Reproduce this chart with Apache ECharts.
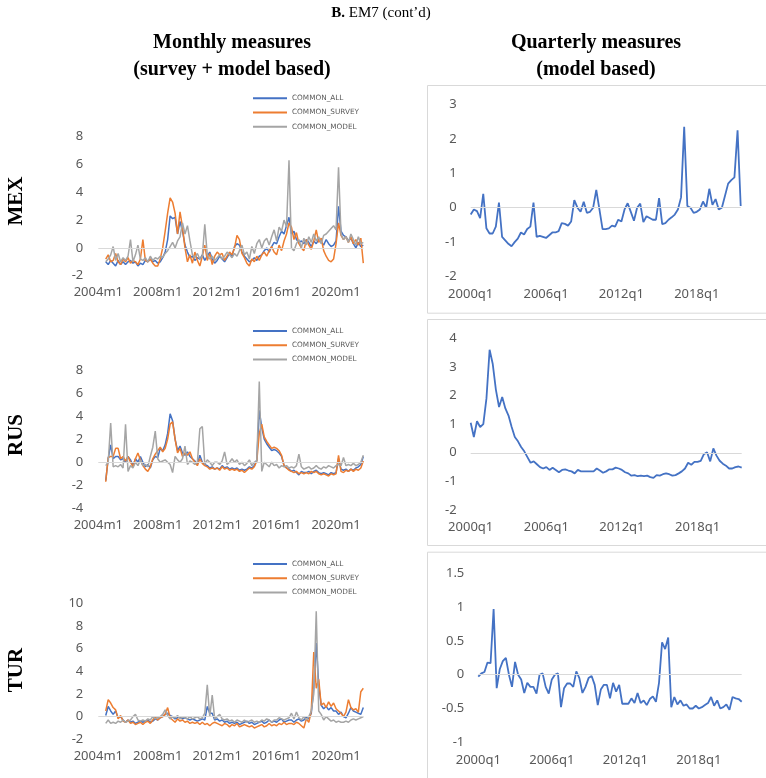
<!DOCTYPE html>
<html>
<head>
<meta charset="utf-8">
<script src="https://cdn.jsdelivr.net/npm/echarts@6/dist/echarts.min.js"></script>
<style>
  html, body { margin: 0; padding: 0; background: #fff; }
  #chart { width: 766px; height: 778px; }
</style>
</head>
<body>
<div id="chart"></div>
<script>
// month labels, every second month, 2004m1 .. 2021m11
const months = []
for (let y = 2004; y <= 2021; y++) {
  for (const m of [1, 3, 5, 7, 9, 11]) months.push(y + 'm' + m)
}
// quarter labels 2000q1 .. 2021q3
const quarters = []
for (let y = 2000; y <= 2021; y++) {
  for (let q = 1; q <= 4; q++) quarters.push(y + 'q' + q)
}
quarters.length = 87

const seriesNames = ['COMMON_ALL', 'COMMON_SURVEY', 'COMMON_MODEL']

// MEX monthly
const mexAll = [
  null, null, null, -1.0, -1.2, -0.9,
  -1.1, -1.3, -0.9, -1.2, -1.0, -1.2,
  -1.0, -0.9, -1.1, -1.0, -1.3, -1.1,
  -1.2, -0.9, -1.0, -0.8, -1.0, -0.9,
  -1.1, -1.0, -0.7, -0.3, 0.6, 2.3,
  2.1, 2.2, 1.0, 1.9, 1.2, 0.2,
  -0.3, -0.7, -0.6, -0.9, -0.7, -0.8,
  -0.5, -0.9, -0.6, -0.3, -0.8, -1.1,
  -0.9, -0.6, -0.8, -1.0, -0.7, -0.4,
  -0.6, 0.1, 0.3, 0.2, -0.3, -0.6,
  -0.8, -1.0, -0.9, -0.7, -0.9, -0.6,
  -0.5, -0.2, 0.0, -0.3, 0.1, 0.4,
  0.3, 0.8, 1.2, 1.0, 1.6, 2.2,
  1.0, 1.2, 0.6, 0.4, 0.5, 0.3,
  0.6, 0.4, 0.1, 0.5, 0.3, 0.6,
  0.4, 0.2, 0.6, 0.3, 0.1, 0.2,
  0.5, 3.0, 1.2, 0.9, 0.8, 0.5,
  0.7, 0.3, 0.0, 0.4, 0.1, 0.2
]
const mexSurvey = [
  null, null, null, -0.8, -0.5, -1.0,
  -0.9, -0.4, -1.0, -1.2, -0.8, -1.0,
  -0.7, -1.1, -0.9, -1.0, -1.2, -0.8,
  0.6, -0.9, -1.0, -0.8, -1.1, -1.3,
  -1.3, -0.8, 0.0, 1.2, 2.5, 3.6,
  3.3, 2.5, 1.0, 2.6, 1.5, 0.0,
  -1.0, -0.5, -1.1, -0.3, -0.9, -1.3,
  -0.6, 0.2, -0.9, -0.4, -1.2, -0.6,
  -0.3, -0.5, -0.4, -0.9, -0.6, -0.3,
  -0.5, 0.0, 0.9, 0.6, -0.4, -0.7,
  -1.1, -1.3, -0.8, -1.0, -0.6, -0.9,
  -0.5, -0.3, -0.6, -0.2, 0.1, -0.3,
  -0.5, 0.2, -0.2, 0.5, 1.0, 1.8,
  1.5, 0.6, 1.1, 0.3, 0.0, -0.2,
  0.6, 0.2, -0.1, 0.5, 1.3, 0.4,
  0.7, -0.2, -0.6, -0.9, -1.0, -0.8,
  0.3, 1.8, 0.9, 0.6, 0.8, 0.4,
  0.8, 0.3, 0.6, 0.2, 0.7, -1.1
]
const mexModel = [
  null, null, null, -1.0, -0.8, -0.5,
  0.1, -0.9, -0.4, -1.0, -0.7, -0.9,
  -0.6, 0.6, -1.0, -0.5, 0.2, -0.8,
  -0.9, -0.7, -1.0, -0.6, -0.9, -0.7,
  -0.8, -0.6, -0.7, -0.4, -0.2, 0.1,
  0.4, 0.0, 0.5, 0.8, 1.8, 1.0,
  1.6, 0.5, -0.5, -0.7, -0.4, -0.8,
  -0.6, 1.7, -0.5, -0.8, -0.6, -0.9,
  -0.7, -0.5, -0.8, -0.6, -0.3, -0.5,
  -0.7, -0.4, -0.6, -0.2, 0.2, -0.5,
  -0.3, -0.8, 0.1, -0.4, 0.3, 0.6,
  0.0, 0.5, 0.7, 0.2, 0.8, 1.3,
  0.5, 1.5, 1.2, 2.0, 1.5, 6.3,
  0.0, -0.2, 0.3, 0.6, 0.0, 0.7,
  0.2, 0.8, 0.4, 1.0, 0.5, 0.8,
  0.3, 0.9, 1.0, 1.2, 1.4, 1.6,
  1.3, 5.8, 1.0, 0.6, 0.8, 0.4,
  1.0, 0.6, 0.2, 0.8, 0.3, 0.4
]

// RUS monthly
const rusAll = [
  null, null, null, -1.6, 0.3, 1.5,
  0.3, 0.5, 0.5, 0.2, 0.3, 0.0,
  0.5, 0.2, -0.3, 0.3, 0.0, 0.5,
  0.0, -0.4, -0.2, -0.5, 0.2, 0.5,
  0.4, 1.2, 1.0, 1.5, 2.5, 4.2,
  3.6, 2.0, 1.0, 1.4, 0.8, 0.6,
  0.9, 0.5, 0.3, 0.1, -0.2, 0.6,
  0.0, -0.2, -0.3, -0.5, -0.4, -0.6,
  -0.5, -0.6, -0.3, -0.5, -0.4, -0.6,
  -0.5, -0.6, -0.5, -0.7, -0.6, -0.7,
  -0.6, -0.4, -0.5, -0.3, 0.2, 4.5,
  3.0, 2.0, 1.6, 1.3, 1.0, 1.1,
  1.0, 0.8, 0.5, -0.3, -0.5, -0.6,
  -0.8, -0.7, -0.9, -1.1, -0.8, -0.9,
  -0.9, -0.8, -1.0, -0.8, -0.7, -0.9,
  -1.0, -0.9, -1.0, -1.1, -0.9, -1.0,
  -0.9, 0.3, -0.6, -0.7, -0.6, -0.8,
  -0.6, -0.7, -0.5, -0.4, -0.2, 0.5
]
const rusSurvey = [
  null, null, null, -1.7, 0.4, 0.5,
  0.5, 1.2, 1.2, 0.3, 0.5, 0.1,
  0.5, 0.0, -0.4, 0.3, 0.8, 0.2,
  -0.3, -0.6, -0.8, -0.4, 0.3, 0.7,
  1.0, 1.3, 0.9, 1.2, 2.0, 3.3,
  3.5, 2.0, 0.8, 1.2, 0.5, 0.8,
  0.6, 0.9, 0.3, 0.0, -0.3, 0.3,
  -0.1, -0.3, -0.4, -0.6, -0.5, -0.6,
  -0.5, -0.7, -0.4, -0.6, -0.5, -0.7,
  -0.6, -0.7, -0.6, -0.8, -0.7, -0.9,
  -0.7, -0.5, -0.6, -0.4, 0.1, 2.5,
  3.3, 2.2, 1.8, 1.5, 1.2, 1.3,
  1.2, 1.0, 0.6, -0.3, -0.5, -0.7,
  -0.8, -0.9, -0.8, -1.0, -0.9, -1.0,
  -0.9, -1.0, -0.8, -0.9, -0.8, -1.0,
  -1.1, -1.0, -1.1, -1.2, -1.0, -1.1,
  -1.0, 0.6, -0.8, -0.9, -0.7, -0.8,
  -0.6, -0.8, -0.6, -0.7, -0.5, 0.1
]
const rusModel = [
  null, null, null, -0.3, 0.0, 3.4,
  -0.4, -0.3, -0.4, -0.2, -0.5, 3.3,
  -0.8, -0.3, -0.5, 0.0, -0.3, 0.2,
  -0.3, -0.2, -0.4, 0.5, 1.3, 2.7,
  0.3, 0.0, 0.1, 0.2, 0.0, -0.2,
  -0.9, 0.5, 0.2, 0.0, 0.3, 1.4,
  -0.2, 0.1, 0.0, -0.2, 0.0, 2.9,
  3.1, -0.2, 0.2, 0.0, -0.3, 0.0,
  0.0, -0.2, 0.1, 0.9, -0.2, 0.0,
  0.3, 0.0, 0.2, -0.2, 0.0, -0.3,
  -0.1, 0.2, -0.3, 0.0, 0.1, 7.0,
  -0.8, 0.0, -0.2, -0.4, 0.0, -0.3,
  -0.2, -0.5, -0.3, -0.4, -0.3, -0.5,
  -0.4, -0.5, -0.3, 0.7, -0.4, -0.6,
  -0.5, -0.4, -0.6, -0.5, -0.3, -0.5,
  -0.6, -0.4, -0.5, -0.3, -0.4, -0.5,
  -0.3, -0.2, -0.3, 0.4, -0.3, -0.2,
  -0.3, -0.1, -0.3, -0.2, 0.0, 0.6
]

// TUR monthly
const turAll = [
  null, null, null, 0.1, 0.9, 0.5,
  0.2, 0.5, -0.1, 0.0, -0.3, -0.5,
  -0.3, -0.5, -0.4, -0.6, -0.5, -0.4,
  -0.5, -0.4, -0.3, -0.5, -0.4, -0.2,
  -0.3, -0.1, 0.0, 0.2, 0.3, 0.1,
  0.0, -0.2, -0.1, 0.0, -0.2, -0.1,
  -0.2, -0.3, -0.2, -0.3, -0.4, -0.3,
  -0.2, -0.3, 0.9, 0.3, 0.3, -0.3,
  -0.2, -0.4, -0.3, -0.5, -0.4, -0.6,
  -0.5, -0.6, -0.5, -0.7, -0.6, -0.5,
  -0.4, -0.6, -0.5, -0.7, -0.6, -0.5,
  -0.4, -0.6, -0.5, -0.3, -0.5, -0.4,
  -0.5, -0.3, -0.2, -0.5, -0.4, -0.3,
  -0.3, -0.5, -0.3, -0.2, -0.4, -0.3,
  0.0, -0.2, 0.3, 2.5, 6.5, 2.8,
  1.0, 0.7, 0.9, 0.6, 0.8, 0.5,
  0.5, 0.2, 0.4, 0.0, -0.1, 0.3,
  0.8, 0.5, 0.4, 0.3, 0.2, 0.8
]
const turSurvey = [
  null, null, null, 0.5, 1.5, 1.2,
  0.8, 0.6, -0.2, 0.1, -0.4, -0.5,
  -0.3, -0.6, -0.5, -0.7, -0.6, -0.5,
  -0.7, -0.5, -0.4, -0.6, -0.3, 0.0,
  -0.3, -0.1, 0.0, 0.2, 0.8, -0.1,
  -0.3, -0.5, -0.2, -0.4, -0.3, -0.5,
  -0.4, -0.6, -0.5, -0.6, -0.5, -0.7,
  -0.5, -0.7, -0.6, -0.8, -0.6, -0.5,
  -0.6, -0.7, -0.8, -0.6, -0.7, -0.9,
  -0.7, -0.8, -0.6, -0.9, -0.8, -0.7,
  -0.8, -0.9, -0.8, -1.0, -0.9, -0.8,
  -0.7, -0.9, -0.8, -0.6, -0.8, -0.7,
  -0.8, -0.6, -0.7, -0.5, -0.7, -0.6,
  -0.6, -0.7, -0.5, -0.6, -0.8, -1.0,
  -0.2, -0.5, 0.5, 5.7, 2.5, 3.3,
  1.0, 1.2, 0.8, 1.3, 0.9, 1.2,
  0.7, 0.5, 0.3, 0.0, 0.4, 1.5,
  0.8, 0.6, 0.7, 0.4, 2.2, 2.5
]
const turModel = [
  null, null, null, -0.6, -0.3, -0.6,
  -0.5, -0.6, -0.4, -0.5, -0.3, -0.5,
  -0.4, -0.3, 0.0, 0.2, -0.3, -0.4,
  -0.3, -0.4, -0.2, -0.3, 0.0, -0.2,
  -0.1, 0.0, 0.2, 0.6, 0.1, -0.2,
  0.0, -0.1, 0.1, -0.2, 0.0, -0.1,
  -0.2, 0.0, -0.2, -0.1, 0.0, -0.2,
  -0.1, 0.3, 2.8, 0.0, 1.9, -0.2,
  0.0, 0.2, -0.2, -0.3, -0.2, -0.4,
  -0.3, -0.5, -0.3, -0.4, -0.5, -0.3,
  -0.5, -0.4, -0.3, -0.5, -0.4, -0.5,
  -0.3, -0.4, -0.2, -0.3, -0.5, -0.3,
  -0.3, -0.1, -0.2, -0.3, -0.2, -0.1,
  0.3, -0.2, 0.4, -0.1, -0.3, 0.0,
  -0.3, 0.0, 0.5, 2.0, 9.3, 0.5,
  0.2, -0.3, 0.0, -0.2, -0.4, -0.3,
  -0.5, -0.4, -0.5, -0.5, -0.4, -0.5,
  -0.3, -0.2, -0.3, -0.2, -0.1, 0.0
]

// quarterly, model based
const mexQ = [
  -0.2, -0.05, -0.1, -0.3, 0.4, -0.6, -0.75, -0.75, -0.55, 0.15,
  -0.85, -0.95, -1.05, -1.12, -1.0, -0.9, -0.72, -0.78, -0.62, -0.55,
  0.15, -0.85, -0.82, -0.85, -0.88, -0.8, -0.72, -0.72, -0.68, -0.45,
  -0.47, -0.52, -0.4, 0.22, 0.0, -0.12, 0.17, -0.15, -0.12, 0.0,
  0.52, -0.05, -0.62, -0.62, -0.6, -0.52, -0.55, -0.35, -0.4, -0.05,
  0.13, -0.12, -0.38, 0.0, 0.12, -0.42, -0.25, -0.3, -0.35, -0.35,
  0.28, -0.48, -0.45, -0.35, -0.28, -0.2, -0.05, 0.3, 2.35, 0.05,
  0.0, -0.15, -0.12, -0.05, 0.18, 0.0, 0.55, 0.08, 0.25, -0.05,
  0.0, 0.35, 0.7, 0.8, 0.88, 2.25, 0.05
]
const rusQ = [
  1.05, 0.55, 1.1, 0.9, 1.0, 1.9, 3.6, 3.1, 2.2, 1.6,
  1.95, 1.55, 1.3, 0.9, 0.55, 0.4, 0.2, 0.05, -0.15, -0.35,
  -0.3, -0.4, -0.5, -0.55, -0.5, -0.6, -0.52, -0.6, -0.68, -0.6,
  -0.58, -0.62, -0.65, -0.72, -0.6, -0.65, -0.65, -0.65, -0.65, -0.65,
  -0.55, -0.62, -0.7, -0.65, -0.58, -0.58, -0.52, -0.55, -0.6, -0.68,
  -0.72, -0.8, -0.78, -0.82, -0.8, -0.82, -0.8, -0.85, -0.88, -0.78,
  -0.8, -0.75, -0.72, -0.75, -0.8, -0.78, -0.72, -0.65, -0.55, -0.35,
  -0.42, -0.32, -0.32, -0.28, -0.05, 0.02, -0.3, 0.15, -0.1, -0.28,
  -0.38, -0.45, -0.55, -0.55, -0.5, -0.48, -0.52
]
const turQ = [
  -0.03, 0.02, 0.04, 0.18, 0.17, 0.97, -0.2, 0.08, 0.2, 0.25,
  0.0, -0.18, 0.19, 0.0, -0.07, -0.27, -0.12, -0.18, -0.18, -0.28,
  0.0, 0.02, -0.18, -0.28, -0.07, 0.0, 0.02, -0.48, -0.2, -0.13,
  -0.13, -0.18, 0.05, -0.05, -0.27, -0.18, -0.05, -0.02, -0.15, -0.45,
  -0.22, -0.15, -0.15, -0.35, -0.12, -0.25, -0.15, -0.43, -0.43, -0.43,
  -0.35, -0.42, -0.27, -0.42, -0.38, -0.45, -0.36, -0.32, -0.4, -0.12,
  0.48, 0.38, 0.55, -0.48, -0.33, -0.44, -0.38, -0.46, -0.44, -0.5,
  -0.5, -0.46, -0.5, -0.48, -0.45, -0.42, -0.33, -0.46, -0.38, -0.5,
  -0.48, -0.44, -0.52, -0.33, -0.35, -0.36, -0.4
]

const colors = ['#4472C4', '#ED7D31', '#A5A5A5']
const labelColor = '#595959'
const labelFont = 'Noto Sans'

const chart = echarts.init(document.getElementById('chart'))

// panel layout: left monthly, right quarterly
const grids = [
  { left: 98.3, top: 136.7, width: 265, height: 139 },
  { left: 98.3, top: 370, width: 265, height: 138.3 },
  { left: 98.3, top: 603.3, width: 265, height: 136 },
  { left: 470.7, top: 104.5, width: 270, height: 172 },
  { left: 470.7, top: 338.3, width: 271, height: 171.7 },
  { left: 478.3, top: 573.3, width: 263.4, height: 169 }
]
const yRanges = [
  [-2, 8, 2], [-4, 8, 2], [-2, 10, 2],
  [-2, 3, 1], [-2, 4, 1], [-1, 1.5, 0.5]
]

const xAxes = grids.map((g, i) => ({
  type: 'category',
  gridIndex: i,
  data: i < 3 ? months : quarters,
  boundaryGap: false,
  axisLine: { show: false },
  axisTick: { show: false },
  axisLabel: {
    interval: 23,
    color: labelColor,
    fontFamily: labelFont,
    fontSize: 13,
    margin: i < 3 ? 10 : 11
  }
}))
const yAxes = yRanges.map((r, i) => ({
  type: 'value',
  gridIndex: i,
  min: r[0],
  max: r[1],
  interval: r[2],
  axisLine: { show: false },
  axisTick: { show: false },
  splitLine: { show: false },
  axisLabel: {
    color: labelColor,
    fontFamily: labelFont,
    fontSize: 13,
    margin: i < 3 ? 15 : 14
  }
}))

const zeroLine = {
  silent: true,
  symbol: 'none',
  label: { show: false },
  lineStyle: { color: '#D9D9D9', width: 1, type: 'solid' },
  data: [{ yAxis: 0 }]
}

const series = []
const monthly = [
  [mexAll, mexSurvey, mexModel],
  [rusAll, rusSurvey, rusModel],
  [turAll, turSurvey, turModel]
]
monthly.forEach((set, gi) => {
  set.forEach((data, k) => {
    series.push({
      name: seriesNames[k],
      type: 'line',
      xAxisIndex: gi,
      yAxisIndex: gi,
      data: data,
      symbol: 'none',
      connectNulls: false,
      lineStyle: { color: colors[k], width: 1.5 },
      itemStyle: { color: colors[k] },
      markLine: k === 0 ? zeroLine : undefined,
      animation: false
    })
  })
})
;[mexQ, rusQ, turQ].forEach((data, j) => {
  series.push({
    name: 'Q' + j,
    type: 'line',
    xAxisIndex: 3 + j,
    yAxisIndex: 3 + j,
    data: data,
    symbol: 'none',
    lineStyle: { color: '#4472C4', width: 1.8 },
    itemStyle: { color: '#4472C4' },
    markLine: zeroLine,
    animation: false
  })
})

const legendTops = [92.3, 325, 558]
const legends = legendTops.map((t) => ({
  data: seriesNames,
  orient: 'vertical',
  left: 253,
  top: t,
  padding: 0,
  icon: 'rect',
  itemWidth: 34,
  itemHeight: 2,
  itemGap: 2.2,
  selectedMode: false,
  textStyle: {
    color: labelColor,
    fontFamily: 'DejaVu Sans',
    fontSize: 7.3,
    lineHeight: 12,
    padding: [0, 0, 0, 0]
  }
}))

// right panel frames
const boxes = [
  [427, 85, 345, 227.7],
  [427, 319, 345, 226],
  [427, 551.7, 345, 240]
].map((b) => ({
  type: 'rect',
  shape: { x: b[0] + 0.5, y: b[1] + 0.5, width: b[2], height: b[3] },
  style: { fill: 'none', stroke: '#D9D9D9', lineWidth: 1 },
  z: -1
}))

const serif = 'Liberation Serif'
const rowLabels = [['MEX', 201], ['RUS', 435], ['TUR', 670]].map((r) => ({
  type: 'text',
  x: 17,
  y: r[1],
  rotation: Math.PI / 2,
  style: {
    text: r[0],
    fontFamily: serif,
    fontWeight: 'bold',
    fontSize: 21,
    fill: '#000',
    align: 'center',
    verticalAlign: 'middle'
  }
}))

function heading(text, x, y, size, weight) {
  return {
    type: 'text',
    x: x,
    y: y,
    style: {
      text: text,
      fontFamily: serif,
      fontWeight: weight,
      fontSize: size,
      fill: '#000',
      align: 'center',
      verticalAlign: 'middle'
    }
  }
}

const headings = [
  {
    type: 'text',
    x: 381,
    y: 13,
    style: {
      text: '{b|B.} EM7 (cont\u2019d)',
      fontFamily: serif,
      fontSize: 15,
      fill: '#000',
      align: 'center',
      verticalAlign: 'middle',
      rich: { b: { fontFamily: serif, fontSize: 15, fontWeight: 'bold' } }
    }
  },
  heading('Monthly measures', 232, 43, 20, 'bold'),
  heading('(survey + model based)', 232, 70, 20, 'bold'),
  heading('Quarterly measures', 596, 43, 20, 'bold'),
  heading('(model based)', 596, 70, 20, 'bold')
]

chart.setOption({
  animation: false,
  grid: grids,
  xAxis: xAxes,
  yAxis: yAxes,
  legend: legends,
  series: series,
  graphic: boxes.concat(rowLabels, headings)
})
</script>
</body>
</html>
